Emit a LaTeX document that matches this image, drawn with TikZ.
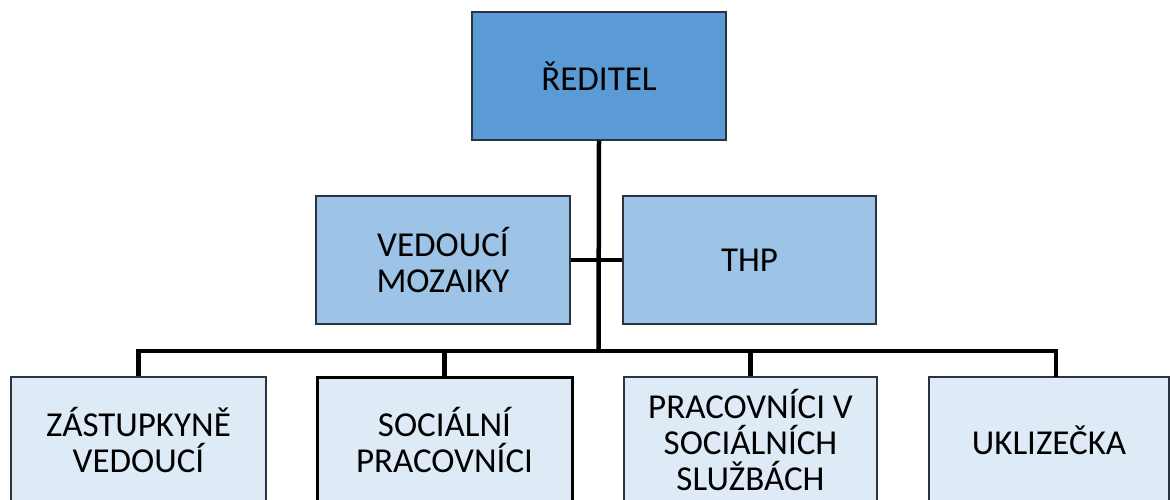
\documentclass[tikz,border=0pt]{standalone}
\usepackage{fontspec}
\setmainfont{Carlito}
\definecolor{topfill}{HTML}{5B9BD5}
\definecolor{midfill}{HTML}{9DC3E6}
\definecolor{lowfill}{HTML}{DEEBF7}
\definecolor{boxline}{HTML}{2A3440}
\tikzset{
  orgbox/.style={draw=boxline, line width=1.3pt, rectangle, align=center, inner sep=0pt,
    font={\fontsize{35}{36}\selectfont}, text=black},
  topbox/.style={orgbox, fill=topfill},
  midbox/.style={orgbox, fill=midfill},
  lowbox/.style={orgbox, fill=lowfill},
  conn/.style={draw=black, line width=4.5pt, line join=miter, line cap=butt}
}
\begin{document}
\begin{tikzpicture}[x=1pt,y=-1pt]
\useasboundingbox (0,0) rectangle (1170,500);
\clip (0,0) rectangle (1170,500);
\fill[white] (0,0) rectangle (1170,500);
\coordinate (j) at (598.5,351);
\coordinate (uk) at (1056,377);
\node[topbox, minimum width=254pt, minimum height=128pt] (top) at (599,76) {ŘEDITEL};
\node[midbox, minimum width=254pt, minimum height=128pt] (ved) at (443,260) {VEDOUCÍ\\MOZAIKY};
\node[midbox, minimum width=253pt, minimum height=128pt] (thp) at (749.5,260) {THP};
\node[lowbox, minimum width=255pt, minimum height=126pt] (zas) at (138.5,440) {ZÁSTUPKYNĚ\\VEDOUCÍ};
\node[lowbox, draw=black, line width=3pt, minimum width=255pt, minimum height=126pt] (soc) at (444.5,440) {SOCIÁLNÍ\\PRACOVNÍCI};
\node[lowbox, minimum width=253pt, minimum height=126pt] (pra) at (750.5,440) {PRACOVNÍCI V\\SOCIÁLNÍCH\\SLUŽBÁCH};
\node[lowbox, minimum width=240pt, minimum height=126pt] (ukl) at (1049,440) {UKLIZEČKA};
\draw[conn] (top.south) -- (j);
\draw[conn] (zas.north) |- (j) -| (uk);
\draw[conn] (soc.north) -- (soc.north |- j);
\draw[conn] (pra.north) -- (pra.north |- j);
\draw[conn] (ved.east) -- (thp.west);
\end{tikzpicture}
\end{document}
